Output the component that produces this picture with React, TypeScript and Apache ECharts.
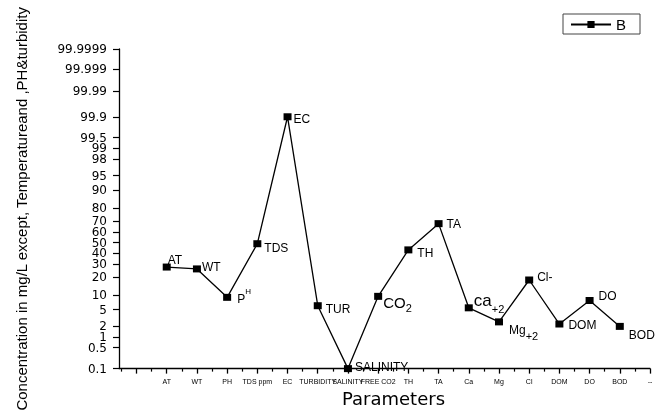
import React, { useEffect, useRef } from "react";
import * as echarts from "echarts";

// x-axis tick labels (one per integer position 1..17)
const categories = ["AT", "WT", "PH", "TDS ppm", "EC", "TURBIDITY", "SALINITY", "FREE CO2", "TH", "TA", "Ca", "Mg", "Cl", "DOM", "DO", "BOD", "--"];
// point labels drawn next to markers (rich-text strings)
const pointLabels = ["AT", "WT", "{n|P}{sup|H}", "TDS", "EC", "TUR", "SALINITY", "{big|CO}{sub|2}", "TH", "TA", "{ca|ca}{sub|+2}", "{mg|Mg}{sub|+2}", "Cl-", "DOM", "DO", "BOD"];
// series B values (percent, on a normal probability scale)
const valuesB = [27.5, 26, 9.0, 49, 99.9, 6.1, 0.1, 9.4, 43, 68, 5.5, 2.6, 18, 2.3, 7.8, 2.0];
// probability-scale tick labels of the y axis
const yTickLabels = ["0.1", "0.5", "1", "2", "5", "10", "20", "30", "40", "50", "60", "70", "80", "90", "95", "98", "99", "99.5", "99.9", "99.99", "99.999", "99.9999"];

// label placement offsets (style only)
const labelOffsets: [number, number][] = [
  [-3, -7], [1, -2], [6, 2], [3, 4], [2, 2], [4, 3], [3, -2], [1, 6],
  [5, 3], [4, 0], [1, -7], [6, 8], [4, -3], [5, 1], [5, -5], [5, 9],
];

function probit(p: number): number {
  const a = [-3.969683028665376e1, 2.209460984245205e2, -2.759285104469687e2, 1.38357751867269e2, -3.066479806614716e1, 2.506628277459239];
  const b = [-5.447609879822406e1, 1.615858368580409e2, -1.556989798598866e2, 6.680131188771972e1, -1.328068155288572e1];
  const c = [-7.784894002430293e-3, -3.223964580411365e-1, -2.400758277161838, -2.549732539343734, 4.374664141464968, 2.938163982698783];
  const d = [7.784695709041462e-3, 3.224671290700398e-1, 2.445134137142996, 3.754408661907416];
  const plow = 0.02425;
  const phigh = 1 - plow;
  if (p < plow) {
    const q = Math.sqrt(-2 * Math.log(p));
    return (((((c[0] * q + c[1]) * q + c[2]) * q + c[3]) * q + c[4]) * q + c[5]) / ((((d[0] * q + d[1]) * q + d[2]) * q + d[3]) * q + 1);
  }
  if (p <= phigh) {
    const q = p - 0.5;
    const r = q * q;
    return ((((((a[0] * r + a[1]) * r + a[2]) * r + a[3]) * r + a[4]) * r + a[5]) * q) / (((((b[0] * r + b[1]) * r + b[2]) * r + b[3]) * r + b[4]) * r + 1);
  }
  const q = Math.sqrt(-2 * Math.log(1 - p));
  return -(((((c[0] * q + c[1]) * q + c[2]) * q + c[3]) * q + c[4]) * q + c[5]) / ((((d[0] * q + d[1]) * q + d[2]) * q + d[3]) * q + 1);
}

export default function App() {
  const ref = useRef<HTMLDivElement>(null);

  useEffect(() => {
    if (!ref.current) return;
    const chart = echarts.init(ref.current, null, { renderer: "svg" });

    const yTickValues = yTickLabels.map((t) => probit(parseFloat(t) / 100));
    const yMin = yTickValues[0];
    const yMax = yTickValues[yTickValues.length - 1];
    const majorX = categories.map((_, i) => i + 1);
    const majorTicks = [0, ...majorX];
    const minorTicks = [-0.5, ...majorTicks.map((v) => v + 0.5)].filter((v) => v < 17);

    const black = "#000";
    const rich = {
      n: { fontSize: 12, lineHeight: 24, color: black, fontFamily: "Liberation Sans" },
      sup: { fontSize: 8, verticalAlign: "top", color: black, fontFamily: "Liberation Sans" },
      big: { fontSize: 15, lineHeight: 22, color: black, fontFamily: "Liberation Sans" },
      ca: { fontSize: 17, lineHeight: 28, color: black, fontFamily: "Liberation Sans" },
      mg: { fontSize: 12, lineHeight: 24, color: black, fontFamily: "Liberation Sans" },
      sub: { fontSize: 11, verticalAlign: "bottom", color: black, fontFamily: "Liberation Sans" },
    };

    const data = valuesB.map((v, i) => ({
      value: [i + 1, probit(v / 100)],
      label: {
        show: true,
        position: "right",
        distance: 0,
        offset: labelOffsets[i],
        formatter: pointLabels[i],
        fontSize: 12,
        color: black,
        fontFamily: "Liberation Sans",
        rich,
      },
    }));

    chart.setOption({
      animation: false,
      textStyle: { fontFamily: "Liberation Sans", color: black },
      grid: { left: 119, right: 7, top: 49, bottom: 45, containLabel: false },
      legend: {
        data: ["B"],
        left: 563,
        top: 14,
        orient: "horizontal",
        padding: [3, 14, 2, 7],
        borderColor: "#444",
        borderWidth: 1,
        itemWidth: 40,
        itemHeight: 9,
        textStyle: { fontSize: 15, color: black, fontFamily: "Liberation Sans" },
      },
      xAxis: [
        {
          type: "value",
          min: -0.58,
          max: 17,
          position: "bottom",
          name: "Parameters",
          nameLocation: "middle",
          nameGap: 20,
          nameTextStyle: { fontSize: 18, color: black, fontFamily: "DejaVu Sans", padding: [0, 0, 0, 18] },
          axisLine: { show: true, onZero: false, lineStyle: { color: black, width: 1.3 } },
          axisTick: { show: true, customValues: majorTicks, length: 5, lineStyle: { color: black, width: 1.3 } },
          axisLabel: {
            show: true,
            customValues: majorX,
            formatter: (v: number) => categories[Math.round(v) - 1] ?? "",
            fontSize: 7,
            margin: 9,
            color: black,
            fontFamily: "Liberation Sans",
          },
          splitLine: { show: false },
        },
        {
          type: "value",
          min: -0.58,
          max: 17,
          position: "bottom",
          axisLine: { show: false, onZero: false },
          axisTick: { show: true, customValues: minorTicks, length: 3, lineStyle: { color: black, width: 1.2 } },
          axisLabel: { show: false },
          splitLine: { show: false },
        },
      ],
      yAxis: {
        type: "value",
        min: yMin,
        max: yMax,
        name: "Concentration in mg/L except, Temperatureand ,PH&turbidity",
        nameLocation: "middle",
        nameGap: 90,
        nameTextStyle: { fontSize: 15, color: black, fontFamily: "Liberation Sans" },
        axisLine: { show: true, onZero: false, lineStyle: { color: black, width: 1.3 } },
        axisTick: { show: true, customValues: yTickValues, length: 6, lineStyle: { color: black, width: 1.2 } },
        axisLabel: {
          show: true,
          customValues: yTickValues,
          formatter: (v: number) => {
            let best = 0;
            let bd = Infinity;
            yTickValues.forEach((t, i) => {
              const dd = Math.abs(t - v);
              if (dd < bd) {
                bd = dd;
                best = i;
              }
            });
            return yTickLabels[best];
          },
          fontSize: 12,
          lineHeight: 9,
          margin: 12,
          color: black,
          fontFamily: "DejaVu Sans",
        },
        splitLine: { show: false },
      },
      series: [
        {
          name: "B",
          type: "line",
          xAxisIndex: 0,
          data,
          symbol: "rect",
          symbolSize: [8, 7],
          clip: false,
          itemStyle: { color: black },
          lineStyle: { color: black, width: 1.3 },
        },
      ],
    });

    return () => chart.dispose();
  }, []);

  return <div ref={ref} style={{ position: "fixed", left: 0, top: 0, width: 657, height: 414 }} />;
}
